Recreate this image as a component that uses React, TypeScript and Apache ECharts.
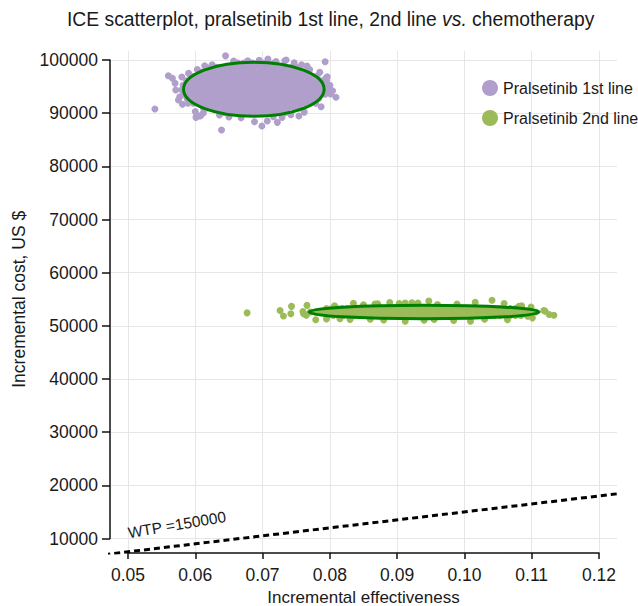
import React, { useEffect, useRef } from "react";
import * as echarts from "echarts";

// ---------------- data ----------------
const seriesNames = ["Pralsetinib 1st line", "Pralsetinib 2nd line"];
const xTickRange = [0.05, 0.12];
const xTickStep = 0.01;
const yTickRange = [10000, 100000];
const yTickStep = 10000;
const wtpText = "WTP =150000";
// WTP = 150000 line end points (effect, cost)
const wtpLine: [number, number][] = [
  [0.045, 6750],
  [0.125, 18750],
];
const wtpLabelAt: [number, number] = [0.0502, 9600];

// 95% ellipses: [centre effect, centre cost, semi-axis effect, semi-axis cost]
const firstLineEllipse = [0.0687, 94500, 0.01045, 5080];
const secondLineEllipse = [0.094, 52600, 0.0171, 1280];

// dense core of the 1st line cloud, by cost row: [cost, effects]
const firstLineCore: [number, number[]][] = [
  [99450, [0.0657, 0.0663, 0.0672, 0.068, 0.0685, 0.0694, 0.0702, 0.0708, 0.0717]],
  [98650, [0.0623, 0.0631, 0.0636, 0.0645, 0.0653, 0.0659, 0.0668, 0.0674, 0.0683, 0.0689, 0.0698, 0.0704, 0.0713, 0.0719, 0.0728, 0.0734, 0.0743, 0.075]],
  [97800, [0.0606, 0.0612, 0.0621, 0.0627, 0.0636, 0.0642, 0.0651, 0.0657, 0.0666, 0.0672, 0.0681, 0.0687, 0.0696, 0.0702, 0.0711, 0.0717, 0.0726, 0.0732, 0.0741, 0.0747, 0.0756, 0.0761, 0.0768]],
  [96950, [0.0594, 0.06, 0.0609, 0.0615, 0.0624, 0.063, 0.0639, 0.0645, 0.0654, 0.066, 0.0669, 0.0675, 0.0684, 0.069, 0.0699, 0.0705, 0.0714, 0.072, 0.0729, 0.0735, 0.0744, 0.075, 0.0759, 0.0765, 0.0774, 0.0781]],
  [96100, [0.0587, 0.0593, 0.0602, 0.0608, 0.0617, 0.0623, 0.0632, 0.0638, 0.0647, 0.0653, 0.0662, 0.0668, 0.0677, 0.0683, 0.0692, 0.0698, 0.0707, 0.0713, 0.0722, 0.0728, 0.0737, 0.0743, 0.0752, 0.0758, 0.0767, 0.0773, 0.0782, 0.0788, 0.0795]],
  [95250, [0.0582, 0.0589, 0.0597, 0.0604, 0.0612, 0.0619, 0.0627, 0.0634, 0.0642, 0.0649, 0.0657, 0.0664, 0.0672, 0.0679, 0.0687, 0.0694, 0.0702, 0.0709, 0.0717, 0.0724, 0.0732, 0.0739, 0.0747, 0.0754, 0.0762, 0.0769, 0.0777, 0.0784, 0.0792, 0.08]],
  [94400, [0.058, 0.0586, 0.0595, 0.0601, 0.061, 0.0616, 0.0625, 0.0631, 0.064, 0.0646, 0.0655, 0.0661, 0.067, 0.0676, 0.0685, 0.0691, 0.07, 0.0706, 0.0715, 0.0721, 0.073, 0.0736, 0.0745, 0.0751, 0.076, 0.0766, 0.0775, 0.0781, 0.079, 0.0797]],
  [93550, [0.0583, 0.059, 0.0598, 0.0605, 0.0613, 0.062, 0.0628, 0.0635, 0.0643, 0.065, 0.0658, 0.0665, 0.0673, 0.068, 0.0688, 0.0695, 0.0703, 0.071, 0.0718, 0.0725, 0.0733, 0.074, 0.0748, 0.0755, 0.0763, 0.077, 0.0778, 0.0786, 0.0793]],
  [92700, [0.0588, 0.0594, 0.0603, 0.0609, 0.0618, 0.0624, 0.0633, 0.0639, 0.0648, 0.0654, 0.0663, 0.0669, 0.0678, 0.0684, 0.0693, 0.0699, 0.0708, 0.0714, 0.0723, 0.0729, 0.0738, 0.0744, 0.0753, 0.0759, 0.0768, 0.0774, 0.0783]],
  [91850, [0.0597, 0.0605, 0.0612, 0.062, 0.0627, 0.0635, 0.0642, 0.065, 0.0657, 0.0665, 0.0672, 0.068, 0.0687, 0.0695, 0.0702, 0.071, 0.0717, 0.0725, 0.0732, 0.074, 0.0747, 0.0755, 0.0762, 0.0771]],
  [91000, [0.0612, 0.0618, 0.0627, 0.0633, 0.0642, 0.0648, 0.0657, 0.0663, 0.0672, 0.0678, 0.0687, 0.0693, 0.0702, 0.0708, 0.0717, 0.0723, 0.0732, 0.0738, 0.0747, 0.0755]],
  [90150, [0.0636, 0.0643, 0.0651, 0.0658, 0.0666, 0.0673, 0.0681, 0.0688, 0.0696, 0.0703, 0.0711, 0.0718, 0.0726, 0.0734]],
];

// scattered 1st line simulations around the core: [effect, cost]
const firstLineOutliers: [number, number][] = [
  [0.054, 90770], [0.056, 97040], [0.0566, 96550], [0.057, 95610], [0.0571, 94350],
  [0.0577, 93090], [0.0575, 92470], [0.0581, 91660], [0.0589, 91850], [0.0602, 89510],
  [0.0608, 89510], [0.0606, 89460], [0.0601, 89210], [0.0639, 86820], [0.0645, 100780],
  [0.0614, 98930], [0.0636, 89650], [0.0688, 88390], [0.0699, 87570], [0.0707, 88520],
  [0.0722, 88270], [0.0729, 89210], [0.0754, 89460], [0.0779, 91850], [0.0787, 91210],
  [0.0809, 92980], [0.0799, 94980], [0.0795, 95290], [0.0794, 96550], [0.0796, 96860],
  [0.0785, 97680], [0.0793, 99680], [0.0766, 98870], [0.0747, 99490], [0.0733, 99870],
  [0.0708, 100190], [0.0678, 99870], [0.0735, 100000], [0.06, 90300], [0.0612, 90050],
  [0.065, 89300], [0.0668, 89150], [0.0716, 89350], [0.0742, 89700], [0.0762, 90200],
  [0.077, 98200], [0.0758, 99100], [0.0625, 99100], [0.0603, 98200], [0.059, 97500],
  [0.058, 96800], [0.0804, 94200], [0.0801, 93600], [0.0657, 99800], [0.0695, 99950],
  [0.072, 99700],
];

// dense core of the 2nd line cloud, by cost row: [cost, effects]
const secondLineCore: [number, number[]][] = [
  [53250, [0.0795, 0.0803, 0.0811, 0.0818, 0.0826, 0.0834, 0.0842, 0.085, 0.0857, 0.0865, 0.0873, 0.0881, 0.0889, 0.0896, 0.0904, 0.0912, 0.092, 0.0928, 0.0935, 0.0943, 0.0951, 0.0959, 0.0967, 0.0974, 0.0982, 0.099, 0.0998, 0.1006, 0.1013, 0.1021, 0.1029, 0.1037, 0.1045, 0.1052, 0.106, 0.1068, 0.1076, 0.1085]],
  [52600, [0.0771, 0.0778, 0.0786, 0.0794, 0.0801, 0.0809, 0.0816, 0.0824, 0.0832, 0.0839, 0.0847, 0.0854, 0.0862, 0.087, 0.0877, 0.0885, 0.0892, 0.09, 0.0908, 0.0915, 0.0923, 0.093, 0.0938, 0.0946, 0.0953, 0.0961, 0.0968, 0.0976, 0.0984, 0.0991, 0.0999, 0.1006, 0.1014, 0.1022, 0.1029, 0.1037, 0.1044, 0.1052, 0.106, 0.1067, 0.1075, 0.1082, 0.109, 0.1098, 0.1106]],
  [51950, [0.0797, 0.0805, 0.0813, 0.082, 0.0828, 0.0836, 0.0844, 0.0851, 0.0859, 0.0867, 0.0875, 0.0882, 0.089, 0.0898, 0.0906, 0.0913, 0.0921, 0.0929, 0.0937, 0.0944, 0.0952, 0.096, 0.0968, 0.0975, 0.0983, 0.0991, 0.0999, 0.1006, 0.1014, 0.1022, 0.103, 0.1037, 0.1045, 0.1053, 0.1061, 0.1068, 0.1076, 0.1084]],
];

const secondLineOutliers: [number, number][] = [
  [0.0677, 52440], [0.0726, 52880], [0.0731, 51850], [0.0742, 52260], [0.0743, 53660],
  [0.0761, 52260], [0.0766, 53850], [0.076, 52700], [0.0765, 52000], [0.0779, 51150],
  [0.0795, 51300], [0.0807, 53790], [0.0835, 54240], [0.085, 53950], [0.0867, 54110],
  [0.0871, 54150], [0.0889, 54400], [0.0903, 54200], [0.0912, 54300], [0.0922, 54350],
  [0.0931, 54300], [0.0947, 54680], [0.096, 54000], [0.0989, 54110], [0.1016, 54430],
  [0.1041, 54810], [0.1059, 54180], [0.1081, 53660], [0.1085, 53750], [0.1099, 53540],
  [0.1118, 52880], [0.112, 52760], [0.1126, 52130], [0.1133, 52000], [0.0912, 50860],
  [0.0984, 51000], [0.1009, 50880], [0.1064, 51150], [0.1094, 51810], [0.1101, 51500],
  [0.083, 51200], [0.086, 51250], [0.088, 51100], [0.094, 51050], [0.0955, 51200],
  [0.103, 51250], [0.0815, 51350],
];

// ---------------- layout / style ----------------
const FONT = '"Liberation Sans", Arial, Helvetica, sans-serif';
const TEXT = "#1a1a1a";
const PURPLE = "#b09fcb";
const OLIVE = "#9bbb59";
const RING = "#008000";
const GRIDC = "#e6e6e6";

const PLOT = { left: 110, right: 617, top: 51, bottom: 553 };
const X_TICK_PX = [128, 599];
const Y_TICK_PX = [60, 538.5];

const xPerPx = (xTickRange[1] - xTickRange[0]) / (X_TICK_PX[1] - X_TICK_PX[0]);
const dataXMin = xTickRange[0] - (X_TICK_PX[0] - PLOT.left) * xPerPx;
const dataXMax = xTickRange[1] + (PLOT.right - X_TICK_PX[1]) * xPerPx;
const yPerPx = (yTickRange[1] - yTickRange[0]) / (Y_TICK_PX[1] - Y_TICK_PX[0]);
const dataYMax = yTickRange[1] + (Y_TICK_PX[0] - PLOT.top) * yPerPx;
const dataYMin = yTickRange[0] - (PLOT.bottom - Y_TICK_PX[1]) * yPerPx;

const expand = (rows: [number, number[]][]) =>
  rows.flatMap(([cost, xs]) => xs.map((x) => [x, cost]));

export default function App() {
  const ref = useRef<HTMLDivElement>(null);

  useEffect(() => {
    if (!ref.current) return;
    const chart = echarts.init(ref.current, undefined, { renderer: "svg" });

    const ellipseRender = (params: any, api: any) => {
      const c = api.coord([api.value(0), api.value(1)]);
      const s = api.size([api.value(2), api.value(3)]);
      return {
        type: "ellipse",
        shape: { cx: c[0], cy: c[1], rx: s[0], ry: s[1] },
        style: { fill: "none", stroke: RING, lineWidth: 3 },
      };
    };

    const hiddenAxis = (gridIndex: number) => ({
      type: "value",
      gridIndex,
      min: 0,
      max: 1,
      show: false,
    });

    const option: any = {
      animation: false,
      backgroundColor: "#ffffff",
      title: {
        text: "{n|ICE scatterplot, pralsetinib 1st line, 2nd line }{i|vs.}{n| chemotherapy}",
        left: 67,
        top: 10,
        padding: 0,
        textStyle: {
          fontWeight: "normal",
          rich: {
            n: { fontSize: 19.3, fontFamily: FONT, color: TEXT, fontWeight: "normal" },
            i: { fontSize: 19.3, fontFamily: FONT, color: TEXT, fontStyle: "italic", fontWeight: "normal" },
          },
        },
      },
      legend: {
        orient: "vertical",
        left: 482,
        top: 80,
        padding: 0,
        itemWidth: 16,
        itemHeight: 16,
        itemGap: 14,
        icon: "circle",
        data: seriesNames,
        textStyle: { fontSize: 16, fontFamily: FONT, color: TEXT },
      },
      grid: [
        { left: PLOT.left, top: PLOT.top, width: PLOT.right - PLOT.left, height: PLOT.bottom - PLOT.top, outerBoundsMode: "none" },
        { left: X_TICK_PX[0], top: PLOT.top, width: X_TICK_PX[1] - X_TICK_PX[0], height: PLOT.bottom - PLOT.top, outerBoundsMode: "none" },
        { left: PLOT.left, top: Y_TICK_PX[0], width: PLOT.right - PLOT.left, height: Y_TICK_PX[1] - Y_TICK_PX[0], outerBoundsMode: "none" },
      ],
      xAxis: [
        { type: "value", gridIndex: 0, min: dataXMin, max: dataXMax, show: false },
        {
          type: "value",
          gridIndex: 1,
          min: xTickRange[0],
          max: xTickRange[1],
          interval: xTickStep,
          position: "bottom",
          offset: 3,
          name: "Incremental effectiveness",
          nameLocation: "middle",
          nameGap: 29,
          nameTextStyle: { fontSize: 17, fontFamily: FONT, color: TEXT },
          axisLine: { show: true, lineStyle: { color: "#111", width: 1.5 } },
          axisTick: { show: true, inside: false, length: 6, lineStyle: { color: "#111", width: 1.5 } },
          axisLabel: {
            fontSize: 17.5,
            fontFamily: FONT,
            color: TEXT,
            margin: 10,
            formatter: (v: number) => v.toFixed(2),
          },
          splitLine: { show: true, lineStyle: { color: GRIDC, width: 1 } },
        },
        hiddenAxis(2),
      ],
      yAxis: [
        { type: "value", gridIndex: 0, min: dataYMin, max: dataYMax, show: false },
        hiddenAxis(1),
        {
          type: "value",
          gridIndex: 2,
          min: yTickRange[0],
          max: yTickRange[1],
          interval: yTickStep,
          position: "left",
          name: "Incremental cost, US $",
          nameLocation: "middle",
          nameGap: 82,
          nameTextStyle: { fontSize: 17.5, fontFamily: FONT, color: TEXT },
          axisLine: { show: true, lineStyle: { color: "#111", width: 1.5 } },
          axisTick: { show: true, inside: false, length: 8, lineStyle: { color: "#111", width: 1.5 } },
          axisLabel: {
            fontSize: 17.5,
            fontFamily: FONT,
            color: TEXT,
            margin: 12,
            formatter: (v: number) => String(v),
          },
          splitLine: { show: true, lineStyle: { color: GRIDC, width: 1 } },
        },
      ],
      series: [
        {
          name: seriesNames[0],
          type: "scatter",
          xAxisIndex: 0,
          yAxisIndex: 0,
          symbol: "circle",
          symbolSize: 7,
          itemStyle: { color: PURPLE, opacity: 1 },
          data: [...expand(firstLineCore), ...firstLineOutliers],
          z: 3,
        },
        {
          name: seriesNames[1],
          type: "scatter",
          xAxisIndex: 0,
          yAxisIndex: 0,
          symbol: "circle",
          symbolSize: 7,
          itemStyle: { color: OLIVE, opacity: 1 },
          data: [...expand(secondLineCore), ...secondLineOutliers],
          z: 3,
        },
        {
          name: "ellipses",
          type: "custom",
          xAxisIndex: 0,
          yAxisIndex: 0,
          renderItem: ellipseRender,
          encode: { x: 0, y: 1 },
          data: [firstLineEllipse, secondLineEllipse],
          silent: true,
          z: 5,
        },
        {
          name: "WTP",
          type: "line",
          xAxisIndex: 0,
          yAxisIndex: 0,
          showSymbol: false,
          symbol: "none",
          clip: true,
          lineStyle: { color: "#000", width: 3, type: [6, 4] },
          data: wtpLine,
          silent: true,
          z: 4,
        },
        {
          name: "WTP label",
          type: "custom",
          xAxisIndex: 0,
          yAxisIndex: 0,
          encode: { x: 0, y: 1 },
          data: [wtpLabelAt],
          silent: true,
          z: 6,
          renderItem: (params: any, api: any) => {
            const p = api.coord([api.value(0), api.value(1)]);
            return {
              type: "text",
              x: p[0],
              y: p[1],
              rotation: (9.5 * Math.PI) / 180,
              style: {
                text: wtpText,
                fill: TEXT,
                fontSize: 15.5,
                fontFamily: FONT,
                align: "left",
                verticalAlign: "bottom",
              },
            };
          },
        },
      ],
    };

    chart.setOption(option);
    return () => chart.dispose();
  }, []);

  return (
    <div
      ref={ref}
      style={{ position: "absolute", left: 0, top: 0, width: 638, height: 606, background: "#fff" }}
    />
  );
}
